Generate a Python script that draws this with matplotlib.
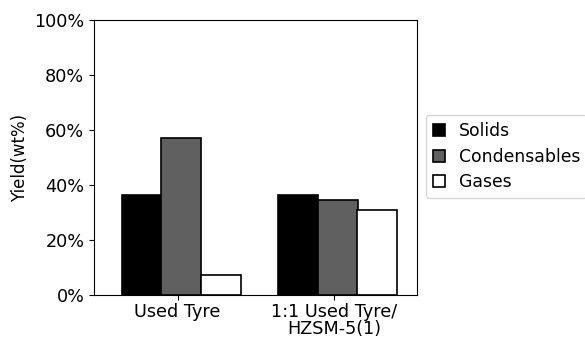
import numpy as np
import matplotlib.pyplot as plt
from matplotlib.ticker import PercentFormatter

categories = ['Used Tyre', '1:1 Used Tyre/\nHZSM-5(1)']
series_names = ['Solids', 'Condensables', 'Gases']
solids = [36.5, 36.5]
condensables = [57.0, 34.5]
gases = [7.4, 30.9]

plt.rcParams['font.size'] = 12.7

fig = plt.figure(figsize=(5.85, 3.39), dpi=100)
ax = fig.add_axes([0.1607, 0.1298, 0.552, 0.8112])

x = np.arange(len(categories))
w = 0.253
offsets = [-0.23, 0.023, 0.275]
colors = ['black', '#606060', 'white']
for vals, name, off, c in zip([solids, condensables, gases], series_names, offsets, colors):
    ax.bar(x + off, vals, w, color=c, edgecolor='black', linewidth=1.2, label=name)

ax.set_xticks(x)
ax.set_xticklabels(categories, linespacing=0.95)
ax.tick_params(axis='x', pad=2)
ax.set_xlim(-0.534, 1.528)
ax.set_ylim(0, 100)
ax.set_yticks([0, 20, 40, 60, 80, 100])
ax.yaxis.set_major_formatter(PercentFormatter(decimals=0))
ax.set_ylabel('Yield(wt%)', fontsize=12)

fig.legend(loc='upper left', bbox_to_anchor=(0.728, 0.661), handlelength=0.7,
           handleheight=0.7, borderaxespad=0, fontsize=12.4, labelspacing=0.45)

fig.savefig('out.png', dpi=100)
